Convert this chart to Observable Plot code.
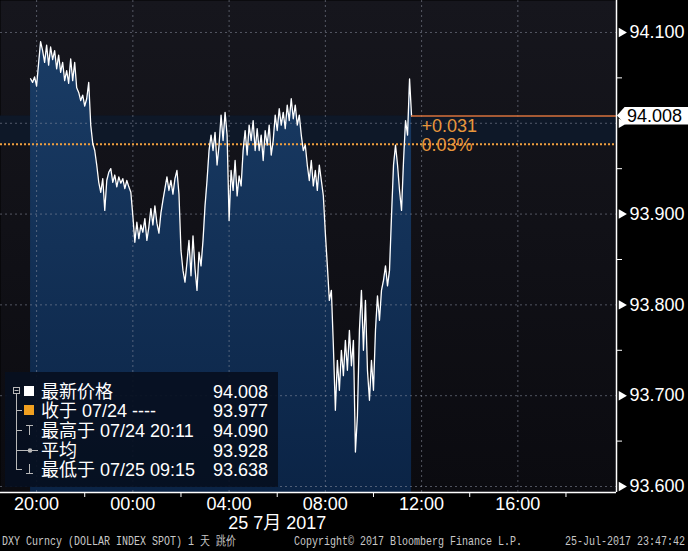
<!DOCTYPE html>
<html><head><meta charset="utf-8">
<script src="https://cdn.jsdelivr.net/npm/d3@7"></script>
<script src="https://cdn.jsdelivr.net/npm/@observablehq/plot@0.6"></script>
<style>
html,body{margin:0;padding:0;background:#000;}
#wrap{position:relative;width:688px;height:551px;overflow:hidden;background:#000;font-family:"Liberation Sans","Noto Sans CJK SC",sans-serif;}
#chart{position:absolute;left:0;top:0;}
#legend{position:absolute;left:5px;top:372px;width:273px;height:115px;background:rgba(7,15,32,0.92);color:#fff;font-size:18px;}
#legend .row{position:absolute;left:0;width:273px;height:19px;line-height:19px;white-space:nowrap;}
#legend .lab,#legend .val{position:absolute;top:0;display:inline-block;height:19px;line-height:19px;overflow:visible;}
#legend .lab{left:36px;}
#legend .val{right:10px;}
#legend svg{position:absolute;left:0;top:0;}
#tag{position:absolute;left:617px;width:71px;height:18px;line-height:18px;background:#fff;color:#000;font-size:18px;padding-left:10px;box-sizing:border-box;clip-path:polygon(0 50%,8px 0,100% 0,100% 100%,8px 100%);}
#footer{position:absolute;left:0;top:533px;width:688px;height:18px;background:#000;color:#c8c8c8;font-family:"Liberation Mono","DejaVu Sans Mono",monospace;font-size:10px;line-height:18px;white-space:nowrap;}
#footer span{position:absolute;top:0;transform:scaleY(1.3);}
</style>
</head><body>
<div id="wrap">
  <div id="chart"></div>
  <div id="legend"></div>
  <div id="tag"></div>
  <div id="footer">
    <span style="left:2px">DXY Curncy (DOLLAR INDEX SPOT) 1 天  跳价</span>
    <span style="left:294px">Copyright© 2017 Bloomberg Finance L.P.</span>
    <span style="right:3px">25-Jul-2017 23:47:42</span>
  </div>
</div>
<script>
// ---- data ----
const seriesStart = "2017-07-24T19:45:00Z"; // first tick
const stepMinutes = 5;
const prices = [
94.049, 94.045, 94.051, 94.041, 94.066, 94.090,
94.080, 94.067, 94.086, 94.064, 94.084, 94.070, 94.080, 94.060, 94.075,
94.056, 94.067, 94.047, 94.058, 94.044,
94.071, 94.047, 94.067, 94.039,
94.034, 94.025, 94.031, 94.019, 94.027, 94.045,
93.998, 93.978, 93.970, 93.954, 93.935,
93.924, 93.939, 93.904,
93.937, 93.946, 93.950, 93.935, 93.943, 93.930, 93.941, 93.934, 93.939, 93.928, 93.937, 93.930, 93.924,
93.898, 93.869, 93.891, 93.873, 93.888, 93.880, 93.895, 93.871, 93.886,
93.906, 93.888, 93.909, 93.890, 93.879, 93.901,
93.915, 93.928, 93.941, 93.926, 93.937, 93.922, 93.939, 93.948,
93.922, 93.860, 93.838, 93.825, 93.847,
93.871, 93.832, 93.876, 93.840, 93.816, 93.858, 93.843, 93.871,
93.909, 93.937, 93.970, 93.987,
93.970, 93.990, 93.954, 93.976,
94.009, 93.981, 94.012, 93.987,
93.893,
93.948, 93.926, 93.959, 93.920, 93.942, 93.931,
93.970, 93.992, 93.965, 93.998, 93.981, 94.003, 93.970,
93.994, 93.970, 93.987, 93.959, 93.992, 93.976, 93.998, 93.965, 93.981,
94.009, 93.992, 94.016, 93.998, 94.012, 93.994, 94.020, 94.003, 94.027, 94.005, 94.020, 93.998, 94.009,
93.987, 93.970, 93.976,
93.954, 93.937, 93.959, 93.931, 93.948, 93.926, 93.954, 93.937, 93.920,
93.879,
93.843, 93.805, 93.816,
93.755, 93.684, 93.739, 93.706, 93.750,
93.722, 93.761, 93.728,
93.772, 93.733, 93.761,
93.638, 93.678,
93.772, 93.816, 93.750, 93.805,
93.728, 93.695, 93.739, 93.706,
93.772, 93.810, 93.783, 93.816,
93.827, 93.843, 93.821, 93.838,
93.898, 93.954,
93.976, 93.954,
93.926, 93.904, 93.959,
94.003, 93.987, 94.049, 94.008
];
const prevClose = 93.977;
const lastPrice = 94.008;
const yTicksMajor = [94.1, 94.0, 93.9, 93.8, 93.7, 93.6];
const yTicksMinor = [94.05, 93.95, 93.85, 93.75, 93.65];
const xLabelTimes = ["2017-07-24T20:00Z","2017-07-25T00:00Z","2017-07-25T04:00Z","2017-07-25T08:00Z","2017-07-25T12:00Z","2017-07-25T16:00Z"];
const xMinorTimes = ["2017-07-24T22:00Z","2017-07-25T02:00Z","2017-07-25T06:00Z","2017-07-25T10:00Z","2017-07-25T14:00Z","2017-07-25T18:00Z"];
const dateLabel = "25 7月 2017";
const dateLabelTime = "2017-07-25T06:00Z";
const xDomain = ["2017-07-24T18:30Z", "2017-07-25T20:06Z"];
const yDomain = [93.5934, 94.1352];
const legendLabels = ["最新价格", "收于 07/24 ----", "最高于 07/24 20:11", "平均", "最低于 07/25 09:15"];
const legendValues = [94.008, 93.977, 94.090, 93.928, 93.638];

// ---- build ----
const t0 = new Date(seriesStart).getTime();
const data = prices.map((v, i) => ({t: new Date(t0 + i * stepMinutes * 60000), v}));
const lastT = data[data.length - 1].t;
const xs = xDomain.map(d => new Date(d));
const fmt3 = d3.format(".3f");
const change = lastPrice - prevClose;
const changePct = change / prevClose * 100;

const grid = {stroke: "#8a90a0", strokeOpacity: 0.55, strokeDasharray: "2,3"};

const plot = Plot.plot({
  width: 688, height: 551,
  marginLeft: 0, marginRight: 72, marginTop: 0, marginBottom: 59,
  style: {background: "#000", color: "white", fontFamily: '"Liberation Sans","Noto Sans CJK SC",sans-serif', fontSize: "18px"},
  x: {type: "utc", domain: xs, axis: null, label: null},
  y: {domain: yDomain, axis: null, label: null},
  marks: [
    Plot.frame({fill: "url(#bgGrad)", stroke: "none"}),
    Plot.rect([{a: prevClose, b: lastPrice}], {x1: () => xs[0], x2: () => xs[1], y1: "a", y2: "b", fill: "#0e1828"}),
    Plot.areaY(data, {x: "t", y1: () => yDomain[0], y2: "v", fill: "url(#areaGrad)"}),
    Plot.gridY(yTicksMajor, grid),
    Plot.gridX(xLabelTimes.map(d => new Date(d)), grid),
    Plot.ruleY([prevClose], {stroke: "#f0a040", strokeWidth: 2, strokeDasharray: "2,2"}),
    Plot.lineY(data, {x: "t", y: "v", stroke: "white", strokeWidth: 1.3}),
    Plot.ruleY([lastPrice], {x1: () => lastT, x2: () => xs[1], stroke: "#d8703a", strokeWidth: 1.5}),
    Plot.ruleX([xs[1]], {stroke: "white", strokeWidth: 1.5}),
    Plot.ruleY([yDomain[0]], {stroke: "white", strokeWidth: 1.5}),
    // 94.000 sits under the last-price tag, as in the original
    Plot.axisY(yTicksMajor.filter(d => Math.abs(d - lastPrice) > 0.02), {anchor: "right", label: null, tickSize: 0, tickPadding: 13, tickFormat: fmt3, fontSize: 18, fill: "white"}),
    Plot.axisY(yTicksMinor, {anchor: "right", label: null, tickSize: 5, tickFormat: () => "", stroke: "white"}),
    Plot.dot(yTicksMajor, {y: d => d, frameAnchor: "right", dx: 5, symbol: "triangle", rotate: 90, r: 3.5, fill: "white", stroke: "none"}),
    Plot.axisX(xLabelTimes.map(d => new Date(d)), {label: null, tickSize: 0, tickPadding: 5, tickFormat: d3.utcFormat("%H:%M"), fontSize: 18, fill: "white"}),
    Plot.axisX(xMinorTimes.map(d => new Date(d)), {label: null, tickSize: 5, tickFormat: () => "", stroke: "white"}),
    Plot.text([dateLabel], {x: () => new Date(dateLabelTime), frameAnchor: "bottom", dy: 36, fill: "white", fontSize: 18}),
    Plot.text([d3.format("+.3f")(change)], {x: () => lastT, y: () => lastPrice, dx: 10, dy: 10, textAnchor: "start", fill: "#e8963c", fontSize: 18}),
    Plot.text([d3.format(".2f")(changePct) + "%"], {x: () => lastT, y: () => lastPrice, dx: 10, dy: 29, textAnchor: "start", fill: "#e8963c", fontSize: 18})
  ]
});
document.getElementById("chart").appendChild(plot);
const svgEl = plot.tagName.toLowerCase() === "svg" ? plot : plot.querySelector("svg");
const defs = d3.select(svgEl).insert("defs", ":first-child");
const bg = defs.append("linearGradient").attr("id", "bgGrad").attr("x1", 0).attr("y1", 0).attr("x2", 0).attr("y2", 1);
bg.append("stop").attr("offset", "0%").attr("stop-color", "#16161d");
bg.append("stop").attr("offset", "100%").attr("stop-color", "#0b0b10");
const ag = defs.append("linearGradient").attr("id", "areaGrad").attr("gradientUnits", "userSpaceOnUse").attr("x1", 0).attr("y1", 0).attr("x2", 0).attr("y2", 492);
ag.append("stop").attr("offset", "0%").attr("stop-color", "#1b3e68");
ag.append("stop").attr("offset", "100%").attr("stop-color", "#0b2446");

// price tag on right axis
const yScale = plot.scale("y");
const tag = document.getElementById("tag");
tag.textContent = fmt3(lastPrice);
tag.style.top = (yScale.apply(lastPrice) - 9) + "px";

// legend
const leg = document.getElementById("legend");
const centers = [19, 38, 58, 78, 97];
legendLabels.forEach((lab, i) => {
  const r = document.createElement("div");
  r.className = "row";
  r.style.top = (centers[i] - 8) + "px";
  r.innerHTML = `<span class="lab">${lab}</span><span class="val">${fmt3(legendValues[i])}</span>`;
  leg.appendChild(r);
});
const ic = d3.select(leg).append("svg").attr("width", 40).attr("height", 115);
const lc = "#b8b8b8";
ic.append("rect").attr("x", 8.5).attr("y", 15.5).attr("width", 6).attr("height", 6).attr("fill", "none").attr("stroke", lc);
ic.append("line").attr("x1", 9.5).attr("x2", 13.5).attr("y1", 18.5).attr("y2", 18.5).attr("stroke", lc);
ic.append("line").attr("x1", 11.5).attr("x2", 11.5).attr("y1", 22).attr("y2", 98).attr("stroke", lc);
centers.slice(1).forEach(c => ic.append("line").attr("x1", 11.5).attr("x2", 17).attr("y1", c + 0.5).attr("y2", c + 0.5).attr("stroke", lc));
ic.append("rect").attr("x", 19).attr("y", 14).attr("width", 10).attr("height", 10).attr("fill", "#fff");
ic.append("rect").attr("x", 19).attr("y", 33).attr("width", 10).attr("height", 10).attr("fill", "#f0a020");
ic.append("line").attr("x1", 21).attr("x2", 28).attr("y1", 53.5).attr("y2", 53.5).attr("stroke", lc);
ic.append("line").attr("x1", 24.5).attr("x2", 24.5).attr("y1", 53.5).attr("y2", 63).attr("stroke", lc);
ic.append("line").attr("x1", 17).attr("x2", 33).attr("y1", 78.5).attr("y2", 78.5).attr("stroke", lc);
ic.append("circle").attr("cx", 25).attr("cy", 78.5).attr("r", 2.3).attr("fill", lc);
ic.append("line").attr("x1", 24.5).attr("x2", 24.5).attr("y1", 92).attr("y2", 101.5).attr("stroke", lc);
ic.append("line").attr("x1", 21).attr("x2", 28).attr("y1", 101.5).attr("y2", 101.5).attr("stroke", lc);
</script>
</body></html>
